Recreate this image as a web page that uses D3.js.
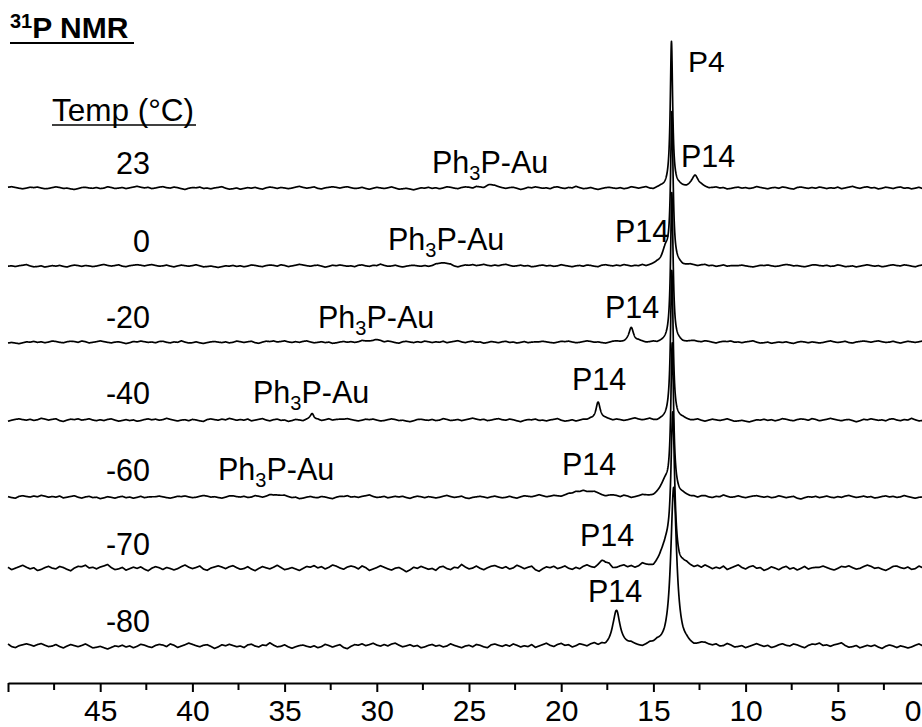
<!DOCTYPE html>
<html>
<head>
<meta charset="utf-8">
<script src="https://cdn.jsdelivr.net/npm/d3@7/dist/d3.min.js"></script>
<style>
  html, body { margin: 0; padding: 0; background: #fff; }
  svg { display: block; }
  text { font-family: "Liberation Sans", Arial, sans-serif; fill: #000; }
</style>
</head>
<body>
<svg id="chart" width="922" height="727"></svg>
<script>
// ---- spectra, one row per temperature (top to bottom) ----
const temps      = ["23", "0", "-20", "-40", "-60", "-70", "-80"];
const offsets    = [60, 49.8, 39.8, 29.6, 19.5, 10.2, 0];        // vertical stacking, intensity units
const noiseLevel = [0.24, 0.22, 0.22, 0.26, 0.26, 0.5, 0.42];   // baseline noise amplitude
const noiseShift = [0, 53, 107, 160, 211, 31, 83];              // where each row starts in the noise record
const rollLevel  = [0.18, 0.16, 0.16, 0.2, 0.2, 0.3, 0.3];      // slow baseline roll amplitude
const rollShift  = [0, 5, 11, 17, 3, 21, 8];

// P4 resonance (ppm, height, half-width at half-height)
const p4Shift  = [14.02, 14.0, 14.0, 14.0, 13.98, 13.95, 13.9];
const p4Height = [19.1, 19.5, 19.5, 19.5, 19.5, 19.5, 20.5];
const p4Width  = [0.077, 0.08, 0.08, 0.085, 0.09, 0.12, 0.19];

// P14 resonance
const p14Shift  = [12.75, 14.35, 16.2, 18.0, 18.7, 17.7, 17.0];
const p14Height = [1.6, 2.0, 2.0, 2.5, 0.8, 1.0, 4.7];
const p14Width  = [0.2, 0.22, 0.15, 0.14, 0.8, 0.4, 0.22];

// Ph3P-Au resonance
const auShift  = [23.9, 26.4, 30.1, 33.5, 35.6, null, null];
const auHeight = [0.4, 0.45, 0.35, 0.8, 0.45, 0, 0];
const auWidth  = [0.25, 0.3, 0.3, 0.12, 0.4, 0, 0];

// unlabelled shoulder on the low-field side of P4
const shShift  = [null, null, null, null, 14.35, 14.35, null];
const shHeight = [0, 0, 0, 0, 1.8, 2.5, 0];
const shWidth  = [0, 0, 0, 0, 0.3, 0.3, 0];

// baseline noise record, one value every 0.2 ppm from 50 to 0 ppm
const noise = [
 0.2,0.5,0.1,-0.3,-0.6,-0.2,0.3,0.1,0.4,-0.1,
 -0.5,-0.3,0.2,0.6,0.3,-0.2,0.0,-0.4,-0.7,-0.2,
 0.4,0.5,0.1,-0.1,0.3,-0.3,-0.1,0.6,0.2,-0.4,
 -0.2,0.1,-0.5,-0.1,0.3,0.7,0.2,-0.2,0.1,-0.6,
 -0.3,0.2,0.5,0.0,-0.2,0.4,0.1,-0.4,-0.8,-0.1,
 0.3,0.2,0.6,-0.1,0.1,-0.3,0.2,0.5,0.9,0.1,
 -0.4,-0.2,0.2,-0.5,-0.1,0.3,0.0,0.4,-0.2,-0.6,
 0.1,0.5,0.2,-0.3,0.2,-0.1,-0.5,-0.2,0.3,0.7,
 0.1,-0.3,0.0,0.4,-0.4,-0.7,-0.1,0.2,0.5,0.2,
 -0.2,0.3,0.6,0.1,-0.3,-0.1,0.4,-0.2,-0.6,0.0,
 0.5,0.2,-0.1,0.3,0.8,0.2,-0.4,-0.2,0.1,-0.3,
 -0.7,-0.2,0.3,0.1,0.5,-0.1,0.2,-0.4,0.0,0.6,
 0.3,-0.2,-0.5,0.1,0.4,0.2,-0.3,0.5,0.1,-0.6,
 -0.2,0.2,0.7,0.3,-0.1,-0.4,0.1,0.3,-0.2,-0.8,
 -0.3,0.4,0.1,0.6,0.2,-0.2,0.0,-0.5,0.3,0.5,
 -0.1,-0.4,0.2,0.0,0.9,0.2,-0.3,-0.1,0.4,-0.2,
 -0.6,-0.1,0.3,0.5,0.1,-0.2,0.2,-0.4,-0.1,0.6,
 0.2,-0.3,0.1,0.4,-0.5,-0.9,-0.2,0.3,0.1,0.5,
 -0.1,0.2,0.6,0.0,-0.3,0.2,-0.2,0.4,0.7,0.1,
 -0.4,-0.1,0.3,-0.2,0.1,-0.6,-0.3,0.2,0.5,0.0,
 0.3,-0.2,0.1,0.8,0.3,-0.1,-0.5,0.0,0.2,-0.3,
 0.4,0.1,-0.4,-0.7,0.2,0.5,0.1,-0.2,0.3,-0.1,
 0.6,0.2,-0.3,0.1,-0.2,0.4,-0.5,-0.1,0.3,0.7,
 0.0,-0.4,0.2,0.5,-0.1,0.1,-0.6,-0.2,0.4,0.1,
 -0.3,0.3,0.6,-0.1,0.2,-0.4,0.0,0.5,-0.2,0.1,
 0.2
];
// slow baseline roll, one value every 2 ppm
const roll = [0.3,0.1,-0.2,0.2,0.4,-0.1,-0.3,0.0,0.3,0.2,-0.2,-0.4,0.1,
              0.3,-0.1,0.2,-0.3,0.0,0.4,0.1,-0.2,0.2,-0.1,0.3,0.0,-0.2];

// axis ticks (ppm)
const majorTicks = [50, 45, 40, 35, 30, 25, 20, 15, 10, 5, 0];
const tickLabels = ["", "45", "40", "35", "30", "25", "20", "15", "10", "5", "0"];
const minorTicks = [47.5, 42.5, 37.5, 32.5, 27.5, 22.5, 17.5, 12.5, 7.5, 2.5];

// ---- layout ----
const W = 922;
const svg = d3.select("#chart");
const x = d3.scaleLinear().domain([50, 0]).range([8, 930]);
const y = d3.scaleLinear().domain([0, 60]).range([646, 188]);

function sampled(arr, step, ppm, shift) {
  const n = arr.length;
  const t = (50 - ppm) / step;
  const k0 = Math.floor(t), f = t - k0;
  const a = arr[(k0 + shift) % n];
  const b = arr[(k0 + 1 + shift) % n];
  return a * (1 - f) + b * f;
}
function baselineAt(ppm, row) {
  return sampled(noise, 0.2, ppm, noiseShift[row]) * noiseLevel[row]
       + sampled(roll, 2, ppm, rollShift[row]) * rollLevel[row];
}
function lorentz(ppm, c, h, w) {
  if (c == null || !h) return 0;
  const d = ppm - c;
  return h * w * w / (w * w + d * d);
}

const grid = d3.range(50, -0.0001, -0.01);
const line = d3.line().x(d => x(d[0])).y(d => y(d[1]));

const traces = svg.append("g")
  .attr("fill", "none").attr("stroke", "#000")
  .attr("stroke-width", 1.7).attr("stroke-linejoin", "round");

temps.forEach((t, i) => {
  const pts = grid.map(p => [p,
    offsets[i]
    + lorentz(p, p4Shift[i], p4Height[i], p4Width[i])
    + lorentz(p, p14Shift[i], p14Height[i], p14Width[i])
    + lorentz(p, auShift[i], auHeight[i], auWidth[i])
    + lorentz(p, shShift[i], shHeight[i], shWidth[i])
    + baselineAt(p, i)]);
  traces.append("path").attr("d", line(pts));
});

// ---- axis ----
const axisY = 683;
const axis = d3.axisBottom(x)
  .tickValues(majorTicks)
  .tickFormat((d, i) => tickLabels[i])
  .tickSize(9).tickSizeOuter(0).tickPadding(8);
const gAxis = svg.append("g").attr("transform", `translate(0,${axisY})`).call(axis);
gAxis.select(".domain").attr("stroke-width", 2);
gAxis.selectAll(".tick line").attr("stroke-width", 2);
gAxis.selectAll(".tick text").attr("font-size", 30)
  .attr("font-family", "Liberation Sans, Arial, sans-serif").attr("fill", "#000");
// the last label sits at the right edge; keep it inside the page
gAxis.selectAll(".tick text").filter(d => x(d) > W - 10)
  .attr("text-anchor", "end").attr("x", W - 1 - x(0));
gAxis.selectAll(".minor").data(minorTicks).enter().append("line")
  .attr("class", "minor")
  .attr("x1", d => x(d)).attr("x2", d => x(d))
  .attr("y1", 0).attr("y2", 7)
  .attr("stroke", "#000").attr("stroke-width", 2);

// ---- title and row labels ----
const title = svg.append("text").attr("x", 10).attr("y", 38)
  .attr("font-weight", "bold").attr("font-size", 30);
title.append("tspan").attr("font-size", 20).attr("dy", -10).text("31");
title.append("tspan").attr("dy", 10).text("P NMR");
svg.append("line").attr("x1", 10).attr("x2", 134).attr("y1", 43).attr("y2", 43)
  .attr("stroke", "#000").attr("stroke-width", 2);

svg.append("text").attr("x", 52).attr("y", 121).attr("font-size", 31.5).text("Temp (°C)");
svg.append("line").attr("x1", 52).attr("x2", 196).attr("y1", 125).attr("y2", 125)
  .attr("stroke", "#000").attr("stroke-width", 1.5);

const rowLabelBase = [174, 252, 328, 404, 481, 555, 632];
svg.append("g").selectAll("text").data(temps).enter().append("text")
  .attr("x", 150).attr("y", (d, i) => rowLabelBase[i])
  .attr("text-anchor", "end").attr("font-size", 30.5).text(d => d);

// ---- peak annotations ----
svg.append("text").attr("x", 688).attr("y", 72).attr("font-size", 30).text("P4");

const p14Pos = [[681, 167], [615, 242], [605, 318], [572, 390], [562, 475], [580, 546], [588, 602]];
p14Pos.forEach(([px, py]) => {
  svg.append("text").attr("x", px).attr("y", py).attr("font-size", 30.5).text("P14");
});

const auPos = [[432, 173], [388, 250], [318, 328], [253, 403], [218, 480]];
auPos.forEach(([px, py]) => {
  const t = svg.append("text").attr("x", px).attr("y", py).attr("font-size", 30.5);
  t.append("tspan").text("Ph");
  t.append("tspan").attr("font-size", 20).attr("dy", 7).text("3");
  t.append("tspan").attr("dy", -7).text("P-Au");
});
</script>
</body>
</html>
